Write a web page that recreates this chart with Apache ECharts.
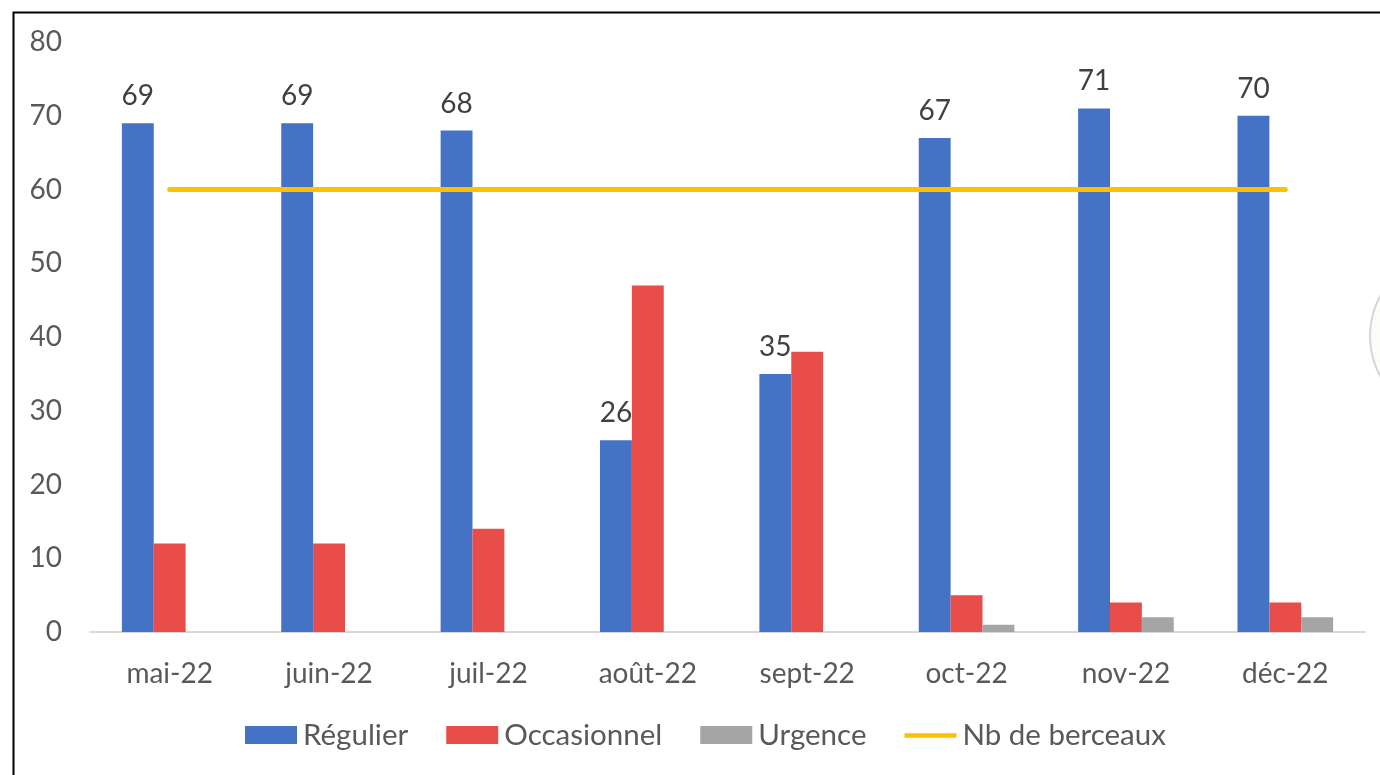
<!DOCTYPE html>
<html><head><meta charset="utf-8">
<script src="https://cdn.jsdelivr.net/npm/echarts@6/dist/echarts.min.js"></script>
<style>html,body{margin:0;padding:0;background:#fff}#c{width:1380px;height:775px}</style>
</head><body><div id="c"></div>
<script>
const categories = ['mai-22','juin-22','juil-22','août-22','sept-22','oct-22','nov-22','déc-22'];
const regulier = [69,69,68,26,35,67,71,70];
const occasionnel = [12,12,14,47,38,5,4,4];
const urgence = [0,0,0,0,0,1,2,2];
const berceaux = [60,60,60,60,60,60,60,60];
const yTicks = [0,10,20,30,40,50,60,70,80];

const FONT = 'Lato';
const FS = 28;
const chart = echarts.init(document.getElementById('c'));
chart.setOption({
  animation:false,
  textStyle:{fontFamily:FONT},
  graphic:[
    {type:'rect',left:11,top:10,shape:{width:1400,height:800},style:{fill:'none',stroke:'#000',lineWidth:2},z:-1},
    {type:'circle',shape:{cx:1454,cy:336,r:84},style:{fill:'#fbfbf8',stroke:'#d6d6d6',lineWidth:2},z:-2}
  ],
  grid:{left:90,right:15,top:42,bottom:143,containLabel:false},
  legend:{bottom:20,left:240,itemWidth:52,itemHeight:18,itemGap:38,
    textStyle:{fontSize:29.5,color:'#595959',fontFamily:FONT,padding:[0,0,0,1]},
    data:[{name:'Régulier',icon:'rect'},{name:'Occasionnel',icon:'rect'},{name:'Urgence',icon:'rect'},
      {name:'Nb de berceaux',icon:'path://M0,7 h56 v5 h-56z M0,0 h0.01 v18 h-0.01z',itemStyle:{color:'#FFC000'}}]},
  xAxis:{type:'category',data:categories,
    axisLine:{lineStyle:{color:'#D9D9D9',width:2}},axisTick:{show:false},
    axisLabel:{fontSize:FS,color:'#595959',margin:28,fontFamily:FONT}},
  yAxis:{type:'value',min:yTicks[0],max:yTicks[yTicks.length-1],interval:10,
    splitLine:{show:false},axisLine:{show:false},axisTick:{show:false},
    axisLabel:{fontSize:FS,color:'#595959',margin:28,fontFamily:FONT}},
  series:[
    {name:'Régulier',type:'bar',data:regulier,barGap:'0%',barCategoryGap:'40%',
     itemStyle:{color:'#4472C4'},
     label:{show:true,position:'top',distance:13,fontSize:FS,color:'#404040',fontFamily:FONT}},
    {name:'Occasionnel',type:'bar',data:occasionnel,itemStyle:{color:'#E84D4A'}},
    {name:'Urgence',type:'bar',data:urgence,itemStyle:{color:'#A5A5A5'}},
    {name:'Nb de berceaux',type:'line',data:berceaux,symbol:'none',
     lineStyle:{color:'#FFC000',width:5,cap:'round'},itemStyle:{color:'#FFC000'},z:5}
  ]
});
</script></body></html>
